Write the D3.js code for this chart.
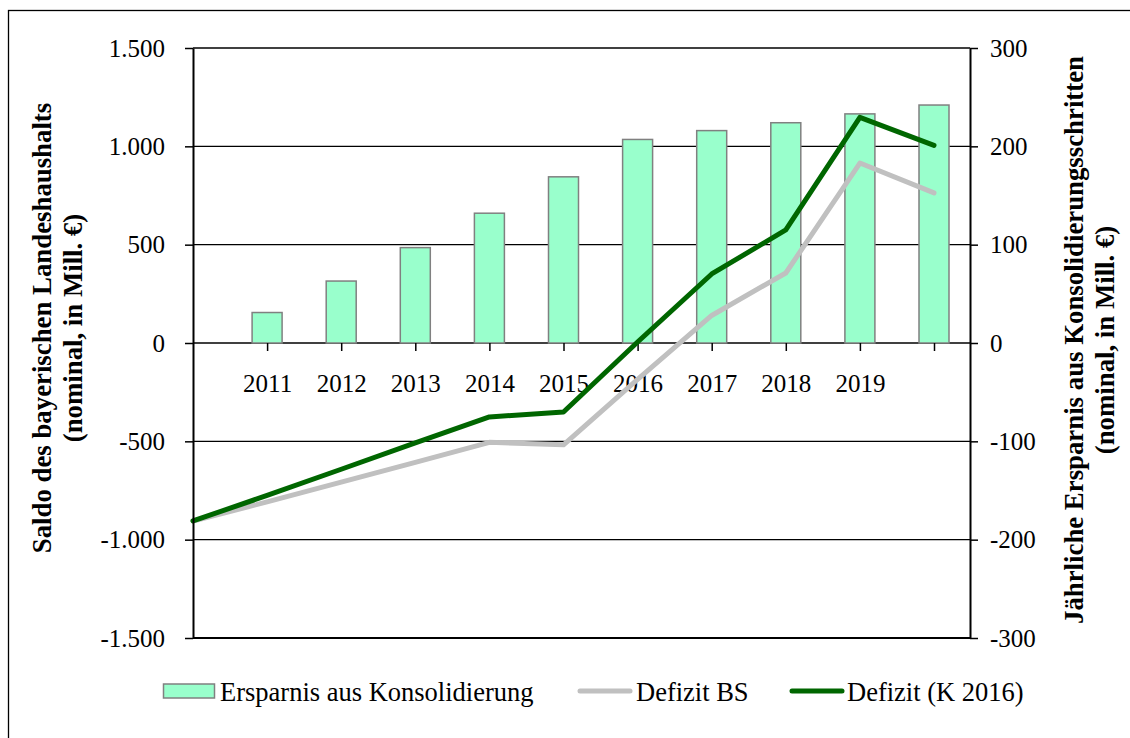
<!DOCTYPE html>
<html><head><meta charset="utf-8">
<script src="https://cdn.jsdelivr.net/npm/d3@7"></script>
<style>
body{margin:0;background:#fff}
svg{display:block}
text{font-family:"Liberation Serif","Times New Roman",serif;fill:#000}
</style>
</head><body>
<svg id="c" width="1130" height="738"></svg>
<script>
// ---- data ----
const lineYears = [2010, 2011, 2012, 2013, 2014, 2015, 2016, 2017, 2018, 2019, 2020];
const defizitBS = [-905, -808, -707, -607, -505, -518, -185, 140, 356, 915, 763];
const defizitK2016 = [-905, -775, -642, -508, -376, -351, 5, 351, 575, 1147, 1005];
const barYears = [2011, 2012, 2013, 2014, 2015, 2016, 2017, 2018, 2019, 2020];
const ersparnis = [31, 63, 97, 132, 169, 207, 216, 224, 233, 242];
const categoryLabels = ["2011", "2012", "2013", "2014", "2015", "2016", "2017", "2018", "2019", ""];
const leftTicks = [-1500, -1000, -500, 0, 500, 1000, 1500];
const rightTicks = [-300, -200, -100, 0, 100, 200, 300];
const seriesNames = ["Ersparnis aus Konsolidierung", "Defizit BS", "Defizit (K 2016)"];
const leftTitle = ["Saldo des bayerischen Landeshaushalts", "(nominal, in Mill. €)"];
const rightTitle = ["Jährliche Ersparnis aus Konsolidierungsschritten", "(nominal, in Mill. €)"];

// ---- layout ----
const L = 193, R = 970, T = 48, B = 638;
const svg = d3.select("#c");
const loc = d3.formatLocale({decimal: ",", thousands: ".", grouping: [3], currency: ["", " €"], minus: "-"});
const fmt = loc.format(",d");

const x = d3.scaleLinear().domain([2010, 2020]).range([L, 934]);
const yL = d3.scaleLinear().domain([-1500, 1500]).range([B, T]);
const yR = d3.scaleLinear().domain([-300, 300]).range([B, T]);

// outer frame
svg.append("rect").attr("x", 8.5).attr("y", 10.5).attr("width", 1140).attr("height", 760)
  .attr("fill", "none").attr("stroke", "#000").attr("stroke-width", 1.3);

// gridlines
svg.append("g").selectAll("line").data(leftTicks).join("line")
  .attr("x1", L).attr("x2", R)
  .attr("y1", d => yL(d)).attr("y2", d => yL(d))
  .attr("stroke", "#000").attr("stroke-width", d => d === -1500 ? 2 : 1.3);

// bars
svg.append("g").selectAll("rect").data(barYears).join("rect")
  .attr("x", (d) => x(d) - 15)
  .attr("width", 30)
  .attr("y", (d, i) => yR(ersparnis[i]))
  .attr("height", (d, i) => yR(0) - yR(ersparnis[i]))
  .attr("fill", "#99FFCC").attr("stroke", "#808080").attr("stroke-width", 1.5);

// x axis (at zero)
const xAxis = svg.append("g").attr("transform", `translate(0,${yL(0)})`)
  .call(d3.axisBottom(x).tickValues(barYears).tickSize(8).tickPadding(23)
    .tickFormat((d, i) => categoryLabels[i]));
xAxis.select(".domain").remove();
xAxis.selectAll(".tick line").attr("stroke", "#000").attr("stroke-width", 1.5);
xAxis.selectAll("text").style("font-size", "25px");

// lines
const line = d3.line().x(d => x(d[0])).y(d => yL(d[1]));
svg.append("path").datum(lineYears.map((y, i) => [y, defizitBS[i]]))
  .attr("d", line).attr("fill", "none").attr("stroke", "#C0C0C0")
  .attr("stroke-width", 5).attr("stroke-linejoin", "round").attr("stroke-linecap", "round");
svg.append("path").datum(lineYears.map((y, i) => [y, defizitK2016[i]]))
  .attr("d", line).attr("fill", "none").attr("stroke", "#006600")
  .attr("stroke-width", 5).attr("stroke-linejoin", "round").attr("stroke-linecap", "round");

// left axis
const la = svg.append("g").attr("transform", `translate(${L},0)`)
  .call(d3.axisLeft(yL).tickValues(leftTicks).tickSize(8).tickSizeOuter(0).tickPadding(20).tickFormat(fmt));
la.select(".domain").attr("stroke", "#000").attr("stroke-width", 2);
la.selectAll(".tick line").attr("stroke", "#000").attr("stroke-width", 1.5);
la.selectAll("text").style("font-size", "25px");

// right axis
const ra = svg.append("g").attr("transform", `translate(${R},0)`)
  .call(d3.axisRight(yR).tickValues(rightTicks).tickSize(8).tickSizeOuter(0).tickPadding(12).tickFormat(fmt));
ra.select(".domain").attr("stroke", "#000").attr("stroke-width", 2);
ra.selectAll(".tick line").attr("stroke", "#000").attr("stroke-width", 1.5);
ra.selectAll("text").style("font-size", "25px");

// axis titles
function vTitle(lines, xs, cy) {
  lines.forEach((t, i) => {
    svg.append("text").attr("transform", `translate(${xs[i]},${cy}) rotate(-90)`)
      .attr("text-anchor", "middle").style("font-size", "26.8px").style("font-weight", "bold")
      .text(t);
  });
}
vTitle(leftTitle, [51, 82], 328);
vTitle(rightTitle, [1083, 1114], 340);

// legend
const lg = svg.append("g");
const ly = 691, lfs = "26.5px";
lg.append("rect").attr("x", 163.5).attr("y", 684).attr("width", 51).attr("height", 14)
  .attr("fill", "#99FFCC").attr("stroke", "#808080").attr("stroke-width", 1.5);
lg.append("text").attr("x", 220).attr("y", 701).style("font-size", lfs).text(seriesNames[0]);
lg.append("line").attr("x1", 580).attr("x2", 630).attr("y1", ly).attr("y2", ly)
  .attr("stroke", "#C0C0C0").attr("stroke-width", 5).attr("stroke-linecap", "round");
lg.append("text").attr("x", 636).attr("y", 701).style("font-size", lfs).text(seriesNames[1]);
lg.append("line").attr("x1", 792).attr("x2", 842).attr("y1", ly).attr("y2", ly)
  .attr("stroke", "#006600").attr("stroke-width", 5).attr("stroke-linecap", "round");
lg.append("text").attr("x", 847).attr("y", 701).style("font-size", lfs).text(seriesNames[2]);
</script>
</body></html>
